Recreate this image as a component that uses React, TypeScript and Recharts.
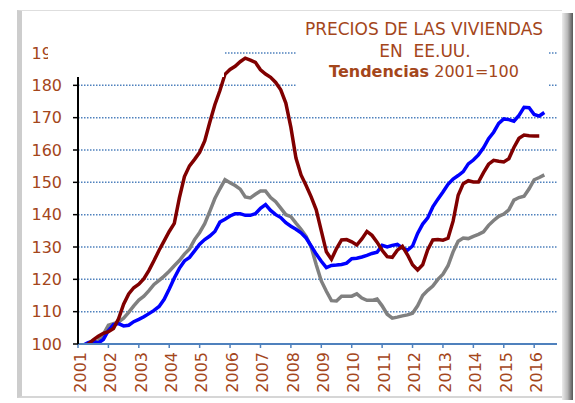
import React from "react";
import {
  LineChart,
  Line,
  XAxis,
  YAxis,
  CartesianGrid,
} from "recharts";

// bimonthly periods (2001 = 100)
const periods = [
  "2001-01", "2001-03", "2001-05", "2001-07", "2001-09", "2001-11",
  "2002-01", "2002-03", "2002-05", "2002-07", "2002-09", "2002-11",
  "2003-01", "2003-03", "2003-05", "2003-07", "2003-09", "2003-11",
  "2004-01", "2004-03", "2004-05", "2004-07", "2004-09", "2004-11",
  "2005-01", "2005-03", "2005-05", "2005-07", "2005-09", "2005-11",
  "2006-01", "2006-03", "2006-05", "2006-07", "2006-09", "2006-11",
  "2007-01", "2007-03", "2007-05", "2007-07", "2007-09", "2007-11",
  "2008-01", "2008-03", "2008-05", "2008-07", "2008-09", "2008-11",
  "2009-01", "2009-03", "2009-05", "2009-07", "2009-09", "2009-11",
  "2010-01", "2010-03", "2010-05", "2010-07", "2010-09", "2010-11",
  "2011-01", "2011-03", "2011-05", "2011-07", "2011-09", "2011-11",
  "2012-01", "2012-03", "2012-05", "2012-07", "2012-09", "2012-11",
  "2013-01", "2013-03", "2013-05", "2013-07", "2013-09", "2013-11",
  "2014-01", "2014-03", "2014-05", "2014-07", "2014-09", "2014-11",
  "2015-01", "2015-03", "2015-05", "2015-07", "2015-09", "2015-11",
  "2016-01", "2016-03", "2016-05",
];

const serieGranate = [
  97.5, 98.8, 100.0, 101.3, 102.4, 103.3,
  103.8, 104.8, 107.8, 112.3, 115.5, 117.4,
  118.5, 120.2, 122.8, 125.8, 129.0, 131.9,
  134.8, 137.3, 145.2, 151.8, 155.1, 157.1,
  159.3, 162.8, 168.6, 174.0, 178.4, 183.4,
  184.9, 185.9, 187.3, 188.4, 187.8, 187.1,
  184.8, 183.5, 182.5, 180.9, 178.6, 174.5,
  167.0, 157.5, 152.3, 149.0, 145.5, 141.5,
  135.0, 128.5, 126.2, 129.5, 132.2, 132.3,
  131.6, 130.6, 132.5, 134.8, 133.6, 131.5,
  129.0, 127.0, 126.8, 129.0, 130.2, 127.6,
  124.5, 122.9, 124.5, 129.2, 132.2, 132.3,
  132.1, 132.7, 138.0, 146.0, 149.6, 150.5,
  150.1, 150.1, 153.0, 155.6, 156.8, 156.5,
  156.3, 157.3, 160.8, 163.6, 164.6, 164.4,
  164.3, 164.3, null,
];

const serieAzul = [
  98.5, 99.6, 100.4, 100.9, 100.3, 101.4,
  104.2, 106.0, 106.3, 105.6, 105.8, 106.9,
  107.6, 108.4, 109.4, 110.4, 111.6, 113.8,
  117.0, 120.4, 123.4, 125.7, 126.8, 128.8,
  130.9, 132.3, 133.4, 134.8, 137.7, 138.6,
  139.6, 140.3, 140.3, 139.8, 139.8, 140.3,
  142.0, 143.1, 141.3, 140.0, 139.1, 137.5,
  136.4, 135.5, 134.4, 132.8, 130.3, 127.8,
  125.6, 123.6, 124.3, 124.4, 124.6, 125.0,
  126.4, 126.5, 126.9, 127.4, 128.0, 128.4,
  130.5, 130.0, 130.5, 130.8, 129.7, 129.0,
  130.3, 134.2, 137.1, 139.0, 142.4, 144.8,
  147.0, 149.4, 151.0, 152.1, 153.3, 155.7,
  156.9, 158.5, 160.7, 163.5, 165.5, 168.2,
  169.6, 169.4, 168.9, 170.7, 173.2, 173.1,
  171.0, 170.5, 171.6,
];

const serieGris = [
  98.0, 98.8, 99.6, 100.4, 100.9, 103.0,
  105.8, 106.3, 106.8, 108.0, 109.8, 111.8,
  113.6, 114.8, 116.5, 118.4, 119.7, 121.0,
  122.5, 124.2, 125.8, 127.8, 129.4, 132.3,
  134.5, 137.2, 141.0, 145.0, 148.0, 150.8,
  149.9, 149.0, 147.9, 145.5, 145.2, 146.3,
  147.3, 147.3, 145.3, 144.0, 142.0, 140.0,
  139.4, 137.4, 135.5, 133.3, 130.0, 124.5,
  119.5, 116.3, 113.4, 113.3, 114.8, 114.8,
  114.8, 115.5, 114.2, 113.5, 113.5, 113.9,
  111.8, 109.2, 108.0, 108.3, 108.7, 109.0,
  109.5, 111.8, 115.0, 116.6, 117.9, 120.0,
  121.6, 124.2, 128.5, 131.8, 132.8, 132.6,
  133.3, 133.9, 134.7, 136.7, 138.2, 139.5,
  140.2, 141.5, 144.5, 145.3, 145.7, 148.0,
  150.8, 151.5, 152.3,
];

const yearTicks = [2001, 2002, 2003, 2004, 2005, 2006, 2007, 2008, 2009, 2010, 2011, 2012, 2013, 2014, 2015, 2016];
const valueTicks = [100, 110, 120, 130, 140, 150, 160, 170, 180, 190];

const BROWN = "#a4461b";
const FONT = "'DejaVu Sans', Verdana, sans-serif";

const data = periods.map((p, i) => {
  const [y, m] = p.split("-").map(Number);
  return {
    t: y + (m - 1) / 12,
    granate: serieGranate[i],
    azul: serieAzul[i],
    gris: serieGris[i],
  };
});

// eslint-disable-next-line @typescript-eslint/no-explicit-any
const YearTick = (props: any) => {
  const { x, y, payload } = props;
  return (
    <text
      x={0}
      y={0}
      transform={`translate(${x + 2},${y + 2}) rotate(-90)`}
      textAnchor="end"
      dy="0.36em"
      fill={BROWN}
      fontSize={16}
      fontFamily={FONT}
    >
      {payload.value}
    </text>
  );
};

export default function App() {
  return (
    <div style={{ position: "absolute", left: 0, top: 0, width: 575, height: 403, background: "#fff", overflow: "hidden" }}>
      {/* frame */}
      <div
        style={{
          position: "absolute",
          left: 17,
          top: 10,
          width: 545,
          height: 388,
          borderLeft: "5px solid #cdcdcd",
          borderTop: "1px solid #dedede",
          borderBottom: "2px solid #d6d6d6",
          boxSizing: "border-box",
        }}
      />
      <div
        style={{
          position: "absolute",
          left: 562,
          top: 13,
          width: 11,
          height: 387,
          background: "linear-gradient(to right, #ececec, #b8b8b8 50%, #555 100%)",
        }}
      />

      <div style={{ position: "absolute", left: 0, top: 0 }}>
        <LineChart width={575} height={403} data={data} margin={{ top: 53, right: 18, bottom: 0, left: 18 }}>
          <CartesianGrid horizontal vertical={false} stroke="#4f81bd" strokeWidth={1.5} strokeDasharray="1.5 1.5" />
          <XAxis
            dataKey="t"
            type="number"
            domain={[2001, 2016.75]}
            ticks={yearTicks}
            height={59}
            axisLine={{ stroke: "#4f81bd", strokeWidth: 2 }}
            tickLine={{ stroke: "#4f81bd", strokeWidth: 1.5 }}
            tickSize={4}
            tick={<YearTick />}
            interval={0}
          />
          <YAxis
            type="number"
            domain={[100, 190]}
            ticks={valueTicks}
            allowDataOverflow
            width={60}
            axisLine={{ stroke: "#000", strokeWidth: 2 }}
            tickLine={{ stroke: "#000", strokeWidth: 1.5 }}
            tickSize={5}
            tickMargin={11}
            tick={{ fill: BROWN, fontSize: 16, fontFamily: FONT }}
            interval={0}
          />
          <Line dataKey="gris" stroke="#808080" strokeWidth={3.5} dot={false} type="linear" isAnimationActive={false} />
          <Line dataKey="azul" stroke="#0000ff" strokeWidth={3.5} dot={false} type="linear" isAnimationActive={false} />
          <Line dataKey="granate" stroke="#800000" strokeWidth={3.5} dot={false} type="linear" isAnimationActive={false} />
        </LineChart>
      </div>

      {/* white boxes overlapping the plot top, as in the original sheet, plus the title */}
      <svg width={575} height={403} style={{ position: "absolute", left: 0, top: 0, pointerEvents: "none" }}>
        <rect x={48} y={12} width={176} height={65} fill="#fff" />
        <rect x={296} y={12} width={252} height={80} fill="#fff" />
        <text x={424} y={35} textAnchor="middle" fill={BROWN} fontSize={17} fontFamily={FONT}>
          PRECIOS DE LAS VIVIENDAS
        </text>
        <text x={425} y={57} textAnchor="middle" fill={BROWN} fontSize={17} fontFamily={FONT} style={{ whiteSpace: "pre" }}>
          EN  EE.UU.
        </text>
        <text x={424} y={77} textAnchor="middle" fill={BROWN} fontSize={16} fontFamily={FONT}>
          <tspan fontWeight="bold">Tendencias</tspan>
          <tspan> 2001=100</tspan>
        </text>
      </svg>
    </div>
  );
}
